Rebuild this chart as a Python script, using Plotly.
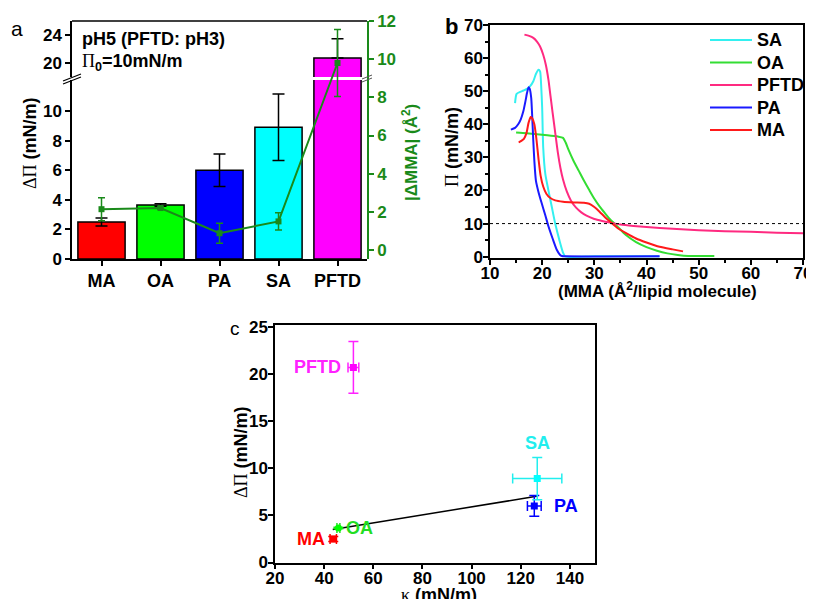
import plotly.graph_objects as go

# The page adds an 8 px body margin, so the figure is 806x591 and all
# layout positions below are given in the 814x599 screenshot frame.
OFF = 8
W, H = 814 - OFF, 599 - OFF

# ---------------- data ----------------
categories = ["MA", "OA", "PA", "SA", "PFTD"]
delta_pi = [2.5, 3.65, 6.0, 8.9, 20.7]          # ΔΠ (mN/m)
delta_pi_err = [0.27, 0.08, 1.1, 2.25, 2.75]
dmma = [2.14, 2.2, 0.88, 1.5, 9.8]               # |ΔMMA| (Å²)
dmma_err = [0.6, 0.06, 0.52, 0.45, 1.75]
kappa = [43.7, 45.8, 125.5, 126.7, 51.9]         # κ (mN/m)
kappa_err = [1.3, 0.6, 2.8, 10.0, 2.2]
fit_kappa = [43.5, 127.0]
fit_dpi = [3.5, 7.05]
bar_colors = ["#ff0000", "#00ff00", "#0000ff", "#00ffff", "#ff00ff"]
label_colors = ["#ff0000", "#22dd22", "#0000ff", "#22eeee", "#ff22ff"]
marker_symbols = ["square", "circle", "square", "square", "square"]

# isotherms (panel b)
sa_x = [14.8, 15.1, 15.8, 16.4, 17.2, 17.7, 18.3, 18.8, 19.3, 19.6, 19.8, 20.0, 20.2, 20.6, 21.2, 21.85, 22.5, 23.3, 24.0, 24.4, 30.0, 42.5]
sa_y = [46.4, 49.2, 49.8, 50.2, 50.8, 51.5, 53.0, 55.2, 56.5, 56.0, 52.0, 45.0, 33.0, 25.0, 20.0, 15.0, 10.0, 5.0, 1.2, 0.1, 0.1, 0.1]
oa_x = [15.0, 17.0, 19.0, 21.0, 23.0, 24.0, 24.5, 25.0, 26.0, 27.0, 28.0, 29.0, 30.0, 31.0, 32.0, 33.0, 34.5, 36.0, 38.0, 40.0, 42.0, 44.0, 46.0, 48.0, 50.0, 53.0]
oa_y = [37.5, 37.3, 37.0, 36.7, 36.3, 35.9, 34.5, 32.5, 29.0, 26.0, 23.0, 20.2, 17.5, 15.2, 13.2, 11.3, 9.0, 6.6, 4.4, 2.9, 1.8, 1.0, 0.5, 0.2, 0.2, 0.2]
pftd_x = [16.6, 17.5, 18.3, 19.0, 19.6, 20.2, 20.7, 21.2, 21.6, 22.0, 22.5, 23.0, 23.5, 24.0, 24.7, 25.5, 26.5, 27.5, 28.5, 30.0, 31.5, 33.0, 35.0, 37.5, 40.0, 45.0, 50.0, 55.0, 60.0, 65.0, 70.0]
pftd_y = [67.1, 66.7, 66.1, 65.0, 63.5, 61.0, 58.0, 53.5, 48.5, 43.5, 37.5, 31.5, 26.8, 23.3, 19.8, 17.0, 14.8, 13.4, 12.4, 11.4, 10.8, 10.3, 9.7, 9.3, 9.0, 8.4, 8.0, 7.7, 7.5, 7.25, 7.05]
pa_x = [14.0, 14.8, 15.4, 15.9, 16.4, 16.8, 17.1, 17.4, 17.6, 17.9, 18.1, 18.3, 18.5, 18.8, 19.3, 19.9, 20.6, 21.2, 22.0, 22.8, 23.4, 23.8, 24.5, 42.5]
pa_y = [38.4, 38.9, 40.0, 41.5, 44.0, 47.0, 49.5, 51.2, 50.8, 48.0, 42.0, 35.0, 29.0, 23.0, 19.5, 16.2, 12.5, 9.2, 5.5, 2.1, 0.6, 0.2, 0.1, 0.1]
ma_x = [15.5, 16.0, 16.5, 17.0, 17.4, 17.8, 18.1, 18.5, 18.9, 19.3, 19.7, 20.2, 20.8, 21.5, 22.5, 24.0, 26.0, 28.0, 29.0, 30.0, 31.0, 32.0, 33.0, 34.5, 36.0, 38.0, 40.0, 42.5, 45.0, 47.0]
ma_y = [34.5, 35.0, 35.6, 37.4, 40.5, 42.2, 41.8, 40.0, 35.5, 29.5, 24.5, 21.2, 19.0, 17.8, 17.0, 16.6, 16.4, 16.3, 16.0, 15.0, 13.6, 12.0, 10.6, 8.6, 7.2, 5.5, 4.3, 3.0, 2.2, 1.6]
iso_names = ["SA", "OA", "PFTD", "PA", "MA"]
iso_x = [sa_x, oa_x, pftd_x, pa_x, ma_x]
iso_y = [sa_y, oa_y, pftd_y, pa_y, ma_y]
iso_colors = ["#33f0f0", "#33dd33", "#ff2a80", "#1a1aff", "#ff1a1a"]
pi0 = 10

green = "#1a8a1a"
FONT = "Liberation Sans, Arial, sans-serif"


def px(x):
    return (x - OFF) / W


def py(y):
    return 1 - (y - OFF) / H


fig = go.Figure()

# ---------------- panel a ----------------
low_err = [e if v < 12 else 0 for v, e in zip(delta_pi, delta_pi_err)]
fig.add_trace(go.Bar(x=categories, y=delta_pi, xaxis="x", yaxis="y", width=0.8,
                     marker=dict(color=bar_colors, line=dict(color="black", width=1.5)),
                     error_y=dict(type="data", array=low_err, color="black", thickness=1.5, width=6),
                     showlegend=False))
fig.add_trace(go.Bar(x=categories, y=delta_pi, xaxis="x", yaxis="y2", width=0.8,
                     marker=dict(color=bar_colors, line=dict(color="black", width=1.5)),
                     error_y=dict(type="data", array=delta_pi_err, arrayminus=[0] * len(delta_pi),
                                  color="black", thickness=1.5, width=6),
                     showlegend=False))
fig.add_trace(go.Scatter(x=categories, y=dmma, xaxis="x", yaxis="y3", mode="lines+markers",
                         line=dict(color=green, width=2),
                         marker=dict(symbol="square", size=6, color=green),
                         error_y=dict(type="data", array=dmma_err, color=green, thickness=1.5, width=3.5),
                         showlegend=False, cliponaxis=False))

# ---------------- panel b ----------------
for name, xs, ys, col in zip(iso_names, iso_x, iso_y, iso_colors):
    fig.add_trace(go.Scatter(x=xs, y=ys, xaxis="x4", yaxis="y4", mode="lines", name=name,
                             line=dict(color=col, width=2, shape="spline", smoothing=0.6),
                             showlegend=False))

# ---------------- panel c ----------------
fig.add_trace(go.Scatter(x=fit_kappa, y=fit_dpi, xaxis="x5", yaxis="y5", mode="lines",
                         line=dict(color="black", width=1.5), showlegend=False))
for i, cat in enumerate(categories):
    fig.add_trace(go.Scatter(x=[kappa[i]], y=[delta_pi[i]], xaxis="x5", yaxis="y5", mode="markers",
                             marker=dict(symbol=marker_symbols[i], size=7, color=bar_colors[i]),
                             error_x=dict(type="data", array=[kappa_err[i]], color=label_colors[i], thickness=1.5, width=5),
                             error_y=dict(type="data", array=[delta_pi_err[i]], color=label_colors[i], thickness=1.5, width=5),
                             showlegend=False))

tick_font = dict(family=FONT, size=17, color="black", weight="bold")
common_ax = dict(showgrid=False, zeroline=False, showline=True, linecolor="black", linewidth=1.5,
                 ticks="outside", ticklen=5, tickwidth=1.5, tickcolor="black", tickfont=tick_font,
                 automargin=False)
minor = dict(dtick=5, ticks="outside", ticklen=3, tickcolor="black")

fig.update_layout(
    width=W, height=H, autosize=False,
    margin=dict(l=0, r=0, t=0, b=0, pad=0),
    paper_bgcolor="white", plot_bgcolor="rgba(0,0,0,0)",
    font=dict(family=FONT),
    showlegend=False,
    xaxis=dict(common_ax, domain=[px(72), px(367)], anchor="y", type="category",
               range=[-0.5, 4.5], tickfont=dict(tick_font, size=18)),
    yaxis=dict(common_ax, domain=[py(259), py(80)], anchor="x", range=[0, 12.1],
               tickvals=[0, 2, 4, 6, 8, 10]),
    yaxis2=dict(common_ax, domain=[py(77), py(21)], anchor="x", range=[18, 26],
                tickvals=[20, 24]),
    yaxis3=dict(common_ax, domain=[py(259), py(21)], anchor="x", side="right",
                range=[-0.47, 12], dtick=2, linecolor=green, tickcolor=green,
                tickfont=dict(tick_font, color=green)),
    xaxis4=dict(common_ax, domain=[px(490), px(803)], anchor="y4", range=[10, 70], dtick=10,
                mirror=True, minor=minor, ticklabelstandoff=-6),
    yaxis4=dict(common_ax, domain=[py(258), py(25)], anchor="x4", range=[-0.4, 70], dtick=10,
                mirror=True, minor=minor, ticklabelstandoff=-3),
    xaxis5=dict(common_ax, domain=[px(275), px(595)], anchor="y5", range=[20, 150.2], dtick=20,
                mirror=True, ticklabelstandoff=-6),
    yaxis5=dict(common_ax, domain=[py(562.5), py(325)], anchor="x5", range=[0, 25.2], dtick=5,
                mirror=True, ticklabelstandoff=-3),
)

shapes = []
# top frame line of panel a
shapes.append(dict(type="line", xref="x domain", yref="paper", x0=0, x1=1, y0=py(21), y1=py(21),
                   line=dict(color="black", width=1.5)))
# axis-break slashes
for dy in (0, 3):
    shapes.append(dict(type="line", xref="paper", yref="paper", x0=px(63), x1=px(81),
                       y0=py(81 + dy), y1=py(74 + dy), line=dict(color="black", width=1.2)))
    shapes.append(dict(type="line", xref="paper", yref="paper", x0=px(362), x1=px(372),
                       y0=py(79 + dy), y1=py(75 + dy), line=dict(color="#555555", width=1)))
# Π0 reference line in panel b
shapes.append(dict(type="line", xref="x4 domain", yref="y4", x0=0, x1=1, y0=pi0, y1=pi0,
                   line=dict(color="black", width=1, dash="dot")))

ann = []


def A(x, y, text, size=17, color="black", xanchor="center", yanchor="middle", angle=0, weight="bold"):
    ann.append(dict(x=px(x), y=py(y), xref="paper", yref="paper", text=text, showarrow=False,
                    xanchor=xanchor, yanchor=yanchor, textangle=angle,
                    font=dict(family=FONT, size=size, color=color, weight=weight)))


# legend of panel b (line sample + label)
for i, (name, col) in enumerate(zip(iso_names, iso_colors)):
    yy = 40 + 22.5 * i
    shapes.append(dict(type="line", xref="paper", yref="paper", x0=px(710), x1=px(752),
                       y0=py(yy), y1=py(yy), line=dict(color=col, width=2)))
    A(755, yy, name, size=18, xanchor="left")

fig.update_layout(shapes=shapes)

serif = "<span style='font-family:Liberation Serif;font-weight:normal'>%s</span>"
# panel letters
A(17, 28, "a", size=21, weight="normal")
A(451, 27, "b", size=22)
A(235, 328, "c", size=19, weight="normal")
# panel a texts
A(80, 39, "pH5 (PFTD: pH3)", size=18, xanchor="left")
A(80, 62, serif % "Π" + "<sub>0</sub>=10mN/m", size=18, xanchor="left")
A(30, 143, serif % "ΔΠ" + " (mN/m)", size=18, angle=-90)
A(410, 153, "|ΔMMA| (Å<sup>2</sup>)", size=17, angle=-90, color=green)
# panel b titles
A(452, 147, serif % "Π" + " (mN/m)", size=18, angle=-90)
A(657, 290, "(MMA (Å<sup>2</sup>/lipid molecule)", size=17)
# panel c titles
A(241, 452, serif % "ΔΠ" + " (mN/m)", size=18, angle=-90)
A(439, 583, serif % "κ" + " (mN/m)", size=18, yanchor="top")

# panel c point labels
lab_cfg = {"MA": dict(xanchor="right", xshift=-6, yshift=0),
           "OA": dict(xanchor="left", xshift=6, yshift=0),
           "PA": dict(xanchor="left", xshift=18, yshift=0),
           "SA": dict(xanchor="center", xshift=0, yshift=36),
           "PFTD": dict(xanchor="right", xshift=-10, yshift=0)}
for i, cat in enumerate(categories):
    c = lab_cfg[cat]
    ann.append(dict(x=kappa[i], y=delta_pi[i], xref="x5", yref="y5", text=cat, showarrow=False,
                    xanchor=c["xanchor"], yanchor="middle", xshift=c["xshift"], yshift=c["yshift"],
                    font=dict(family=FONT, size=18, color=label_colors[i], weight="bold")))

fig.update_layout(annotations=ann)
fig.write_html("out.html")
